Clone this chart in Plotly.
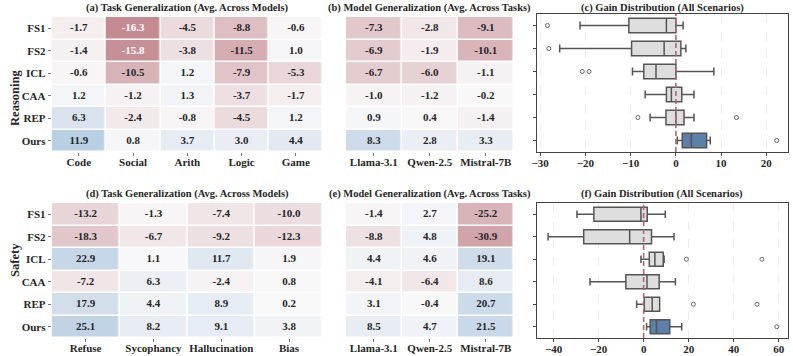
import plotly.graph_objects as go

methods = ['FS1', 'FS2', 'ICL', 'CAA', 'REP', 'Ours']

# reasoning: task generalization (avg across models)
reason_tasks = ['Code', 'Social', 'Arith', 'Logic', 'Game']
reason_task_gain = [
    [-1.7, -16.3, -4.5, -8.8, -0.6],
    [-1.4, -15.8, -3.8, -11.5, 1.0],
    [-0.6, -10.5, 1.2, -7.9, -5.3],
    [1.2, -1.2, 1.3, -3.7, -1.7],
    [6.3, -2.4, -0.8, -4.5, 1.2],
    [11.9, 0.8, 3.7, 3.0, 4.4],
]
models = ['Llama-3.1', 'Qwen-2.5', 'Mistral-7B']
reason_model_gain = [
    [-7.3, -2.8, -9.1],
    [-6.9, -1.9, -10.1],
    [-6.7, -6.0, -1.1],
    [-1.0, -1.2, -0.2],
    [0.9, 0.4, -1.4],
    [8.3, 2.8, 3.3],
]

# safety
safety_tasks = ['Refuse', 'Sycophancy', 'Hallucination', 'Bias']
safety_task_gain = [
    [-13.2, -1.3, -7.4, -10.0],
    [-18.3, -6.7, -9.2, -12.3],
    [22.9, 1.1, 11.7, 1.9],
    [-7.2, 6.3, -2.4, 0.8],
    [17.9, 4.4, 8.9, 0.2],
    [25.1, 8.2, 9.1, 3.8],
]
safety_model_gain = [
    [-1.4, 2.7, -25.2],
    [-8.8, 4.8, -30.9],
    [4.4, 4.6, 19.1],
    [-4.1, -6.4, 8.6],
    [3.1, -0.4, 20.7],
    [8.5, 4.7, 21.5],
]

# box stats: lower whisker, q1, median, q3, upper whisker
reason_box = {
    'FS1': [-21.2, -10.4, -2.1, 0.0, 1.6],
    'FS2': [-25.7, -9.8, -2.6, 1.1, 2.2],
    'ICL': [-9.6, -7.1, -4.4, 0.0, 8.4],
    'CAA': [-6.8, -2.1, -1.0, 1.3, 4.0],
    'REP': [-5.7, -2.2, 0.0, 1.8, 4.0],
    'Ours': [0.3, 1.4, 3.4, 6.8, 7.6],
}
reason_outliers = {
    'FS1': [-28.4], 'FS2': [-28.1], 'ICL': [-20.7, -19.2],
    'CAA': [], 'REP': [-8.4, 13.4], 'Ours': [22.3],
}
safety_box = {
    'FS1': [-29.6, -22.1, -1.2, 1.6, 9.6],
    'FS2': [-42.4, -26.6, -6.2, 3.5, 13.5],
    'ICL': [-1.2, 2.5, 5.0, 8.7, 9.1],
    'CAA': [-23.8, -7.9, 1.5, 6.9, 14.1],
    'REP': [-3.1, 0.3, 3.8, 7.1, 7.1],
    'Ours': [1.3, 2.9, 5.7, 11.6, 16.9],
}
safety_outliers = {
    'FS1': [], 'FS2': [], 'ICL': [19.0, 52.5],
    'CAA': [], 'REP': [22.1, 50.3], 'Ours': [59.1],
}

W, H = 793, 356
SERIF = 'Liberation Serif'
TXT = '#262626'
CSCALE = [[0.0, 'rgb(161,191,218)'], [0.5, 'rgb(250,249,250)'], [1.0, 'rgb(196,140,146)']]


def dx(a, b):
    return [a / W, b / W]


def dy(top, bottom):
    return [1 - bottom / H, 1 - top / H]


fig = go.Figure()


def heatmap(z, cols, n, zlim):
    xa, ya = f'x{n}', f'y{n}'
    # flip sign so that negative gains land on the red end
    zz = [[-v for v in row] for row in z]
    fig.add_trace(go.Heatmap(z=zz, x=cols, y=methods, xaxis=xa, yaxis=ya,
                             zmin=-zlim, zmax=zlim, colorscale=CSCALE, showscale=False,
                             xgap=1.5, ygap=1.5, hoverinfo='skip'))
    xs, ys, ts, cs = [], [], [], []
    for i, m in enumerate(methods):
        for j, c in enumerate(cols):
            v = z[i][j]
            xs.append(c)
            ys.append(m)
            ts.append(f'{v:.1f}')
            cs.append('white' if abs(v) / zlim > 0.85 else TXT)
    fig.add_trace(go.Scatter(x=xs, y=ys, text=ts, mode='text', xaxis=xa, yaxis=ya,
                             textfont=dict(color=cs, size=11, family=SERIF, weight='bold'),
                             showlegend=False, hoverinfo='skip'))


def boxes(stats, outs, n):
    xa, ya = f'x{n}', f'y{n}'
    for i, m in enumerate(methods):
        lo, q1, med, q3, hi = stats[m]
        fig.add_trace(go.Box(y=[i], lowerfence=[lo], q1=[q1], median=[med], q3=[q3], upperfence=[hi],
                             orientation='h', xaxis=xa, yaxis=ya, width=0.62, whiskerwidth=0.55,
                             fillcolor='#5b80aa' if m == 'Ours' else '#dedede',
                             line=dict(color='#555555', width=1.5), boxpoints=False,
                             showlegend=False, hoverinfo='skip'))
        if outs[m]:
            fig.add_trace(go.Scatter(x=outs[m], y=[i] * len(outs[m]), mode='markers', xaxis=xa, yaxis=ya,
                                     marker=dict(symbol='circle-open', size=4, color='#666666',
                                                 line=dict(width=1)),
                                     showlegend=False, hoverinfo='skip'))
    fig.add_shape(type='line', xref=xa, yref=f'{ya} domain', x0=0, x1=0, y0=0, y1=1,
                  line=dict(color='#b3666b', width=1.6, dash='5px,3px'))


heatmap(reason_task_gain, reason_tasks, 1, 16.3)
heatmap(reason_model_gain, models, 2, 16.3)
boxes(reason_box, reason_outliers, 3)
heatmap(safety_task_gain, safety_tasks, 4, 39.5)
heatmap(safety_model_gain, models, 5, 39.5)
boxes(safety_box, safety_outliers, 6)

tick_font = dict(family=SERIF, size=11, color=TXT, weight='bold')
top, bot = dy(17, 152), dy(203, 338)
layout = dict(width=W, height=H, margin=dict(l=0, r=0, t=0, b=0),
              paper_bgcolor='white', plot_bgcolor='white', showlegend=False)

for n, xd, yd, ylab in [(1, dx(47, 320), top, True), (2, dx(343, 512), top, False),
                        (4, dx(47, 320), bot, True), (5, dx(343, 512), bot, False)]:
    layout[f'xaxis{n}'] = dict(domain=xd, anchor=f'y{n}', type='category', ticks='outside',
                               ticklen=3, tickcolor='#777777', tickfont=tick_font,
                               ticklabelstandoff=-3,
                               showgrid=False, zeroline=False, showline=False)
    layout[f'yaxis{n}'] = dict(domain=yd, anchor=f'x{n}', type='category', autorange='reversed',
                               ticks='outside' if ylab else '', ticklen=3, tickcolor='#777777',
                               showticklabels=ylab, tickfont=tick_font,
                               showgrid=False, zeroline=False, showline=False)

for n, yd, rng, dt in [(3, dy(14, 152), [-30.8, 24.8], 10), (6, bot, [-47.5, 64.1], 20)]:
    layout[f'xaxis{n}'] = dict(domain=dx(535, 788), anchor=f'y{n}', range=rng, dtick=dt,
                               ticks='outside', ticklen=3, tickcolor='#444444', tickfont=tick_font,
                               ticklabelstandoff=-2,
                               showgrid=True, gridcolor='#ececec', griddash='dash', gridwidth=1,
                               zeroline=False, showline=True, mirror=True,
                               linecolor='#444444', linewidth=1.2)
    layout[f'yaxis{n}'] = dict(domain=yd, anchor=f'x{n}', range=[5.5, -0.5],
                               tickvals=list(range(len(methods))), showticklabels=False,
                               ticks='outside', ticklen=3, tickcolor='#444444',
                               showgrid=False, zeroline=False, showline=True, mirror=True,
                               linecolor='#444444', linewidth=1.2)

titles = [('(a) Task Generalization (Avg. Across Models)', (47 + 320) / 2, 8),
          ('(b) Model Generalization (Avg. Across Tasks)', (343 + 512) / 2, 8),
          ('(c) Gain Distribution (All Scenarios)', (535 + 788) / 2, 8),
          ('(d) Task Generalization (Avg. Across Models)', (47 + 320) / 2, 194),
          ('(e) Model Generalization (Avg. Across Tasks)', (343 + 512) / 2, 194),
          ('(f) Gain Distribution (All Scenarios)', (535 + 788) / 2, 194)]
ann = []
for t, cx, cy in titles:
    ann.append(dict(text=t, x=cx / W, y=1 - cy / H, xref='paper', yref='paper', showarrow=False,
                    xanchor='center', yanchor='middle',
                    font=dict(family=SERIF, size=10.5, color=TXT, weight='bold')))
for t, cy in [('Reasoning', 98), ('Safety', 260)]:
    ann.append(dict(text=t, x=10 / W, y=1 - cy / H, xref='paper', yref='paper', showarrow=False,
                    textangle=-90, xanchor='center', yanchor='middle',
                    font=dict(family=SERIF, size=12.5, color=TXT, weight='bold')))
layout['annotations'] = ann

fig.update_layout(**layout)
# drop the default page margin so the figure sits at the window's corner
fig.write_html('out.html', config={'displayModeBar': False},
               post_script="document.body.style.margin='0';document.body.style.overflow='hidden';")
